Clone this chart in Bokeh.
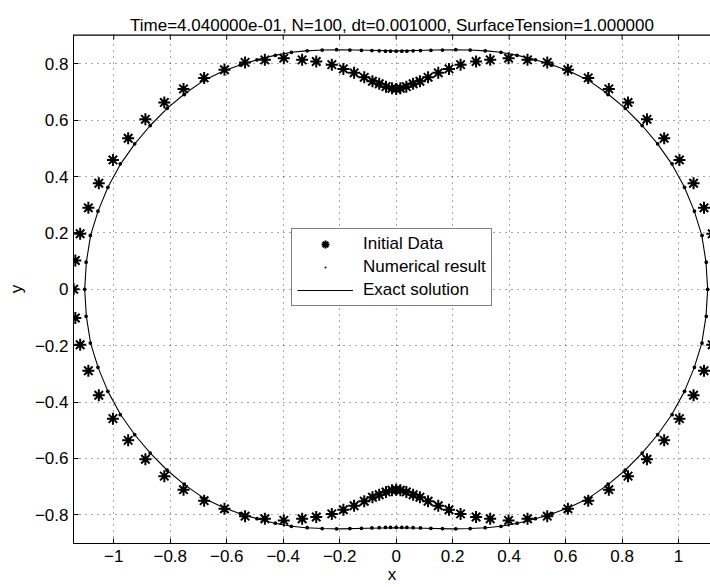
import math

from bokeh.plotting import figure
from bokeh.models import Range1d, FixedTicker, Legend, LegendItem, Span
from bokeh.embed import file_html
from bokeh.resources import INLINE

FONT = "Liberation Sans"

TITLE = "Time=4.040000e-01, N=100, dt=0.001000, SurfaceTension=1.000000"

x_ticks = [-1.0, -0.8, -0.6, -0.4, -0.2, 0.0, 0.2, 0.4, 0.6, 0.8, 1.0]
x_tick_labels = ["\u22121", "\u22120.8", "\u22120.6", "\u22120.4", "\u22120.2", "0",
                 "0.2", "0.4", "0.6", "0.8", "1"]
y_ticks = [-0.8, -0.6, -0.4, -0.2, 0.0, 0.2, 0.4, 0.6, 0.8]
y_tick_labels = ["\u22120.8", "\u22120.6", "\u22120.4", "\u22120.2", "0",
                 "0.2", "0.4", "0.6", "0.8"]

X_LIM = (-1.1426, 1.1130)
Y_LIM = (-0.902, 0.904)

# Initial interface (marker points), N = 100
star_x = [0.000, -0.015, -0.036, -0.060, -0.084, -0.113, -0.149, -0.187, -0.228, -0.283,
          -0.333, -0.398, -0.465, -0.535, -0.608, -0.680, -0.753, -0.821, -0.888, -0.949,
          -1.003, -1.053, -1.090, -1.119, -1.136, -1.142,
          -1.136, -1.119, -1.090, -1.053, -1.003, -0.949, -0.888, -0.821, -0.753, -0.680,
          -0.608, -0.535, -0.465, -0.398, -0.333, -0.283, -0.228, -0.187, -0.149, -0.113,
          -0.084, -0.060, -0.036, -0.015, 0.000,
          0.015, 0.036, 0.060, 0.084, 0.113, 0.149, 0.187, 0.228, 0.283, 0.333,
          0.398, 0.465, 0.535, 0.608, 0.680, 0.753, 0.821, 0.888, 0.949, 1.003,
          1.053, 1.090, 1.119, 1.136, 1.142,
          1.136, 1.119, 1.090, 1.053, 1.003, 0.949, 0.888, 0.821, 0.753, 0.680,
          0.608, 0.535, 0.465, 0.398, 0.333, 0.283, 0.228, 0.187, 0.149, 0.113,
          0.084, 0.060, 0.036, 0.015]
star_y = [0.711, 0.713, 0.719, 0.729, 0.738, 0.752, 0.768, 0.782, 0.797, 0.808,
          0.814, 0.820, 0.814, 0.805, 0.779, 0.750, 0.711, 0.663, 0.603, 0.536,
          0.459, 0.376, 0.289, 0.197, 0.102, 0.000,
          -0.102, -0.197, -0.289, -0.376, -0.459, -0.536, -0.603, -0.663, -0.711, -0.750,
          -0.779, -0.805, -0.814, -0.820, -0.814, -0.808, -0.797, -0.782, -0.768, -0.752,
          -0.738, -0.729, -0.719, -0.713, -0.711,
          -0.713, -0.719, -0.729, -0.738, -0.752, -0.768, -0.782, -0.797, -0.808, -0.814,
          -0.820, -0.814, -0.805, -0.779, -0.750, -0.711, -0.663, -0.603, -0.536, -0.459,
          -0.376, -0.289, -0.197, -0.102, 0.000,
          0.102, 0.197, 0.289, 0.376, 0.459, 0.536, 0.603, 0.663, 0.711, 0.750,
          0.779, 0.805, 0.814, 0.820, 0.814, 0.808, 0.797, 0.782, 0.768, 0.752,
          0.738, 0.729, 0.719, 0.713]

# Computed marker positions at t = 0.404
num_x = [0.000, -0.020, -0.038, -0.060, -0.086, -0.123, -0.164, -0.211, -0.262, -0.315,
         -0.371, -0.428, -0.493, -0.552, -0.608, -0.679, -0.750, -0.811, -0.871, -0.926,
         -0.977, -1.021, -1.056, -1.083, -1.098, -1.103,
         -1.098, -1.083, -1.056, -1.021, -0.977, -0.926, -0.871, -0.811, -0.750, -0.679,
         -0.608, -0.552, -0.493, -0.428, -0.371, -0.315, -0.262, -0.211, -0.164, -0.123,
         -0.086, -0.060, -0.038, -0.020, 0.000,
         0.020, 0.038, 0.060, 0.086, 0.123, 0.164, 0.211, 0.262, 0.315, 0.371,
         0.428, 0.493, 0.552, 0.608, 0.679, 0.750, 0.811, 0.871, 0.926, 0.977,
         1.021, 1.056, 1.083, 1.098, 1.103,
         1.098, 1.083, 1.056, 1.021, 0.977, 0.926, 0.871, 0.811, 0.750, 0.679,
         0.608, 0.552, 0.493, 0.428, 0.371, 0.315, 0.262, 0.211, 0.164, 0.123,
         0.086, 0.060, 0.038, 0.020]
num_y = [0.845, 0.845, 0.845, 0.846, 0.847, 0.848, 0.849, 0.850, 0.849, 0.846,
         0.841, 0.830, 0.814, 0.796, 0.776, 0.743, 0.691, 0.642, 0.581, 0.516,
         0.445, 0.362, 0.277, 0.191, 0.096, 0.000,
         -0.096, -0.191, -0.277, -0.362, -0.445, -0.516, -0.581, -0.642, -0.691, -0.743,
         -0.776, -0.796, -0.814, -0.830, -0.841, -0.846, -0.849, -0.850, -0.849, -0.848,
         -0.847, -0.846, -0.845, -0.845, -0.845,
         -0.845, -0.845, -0.846, -0.847, -0.848, -0.849, -0.850, -0.849, -0.846, -0.841,
         -0.830, -0.814, -0.796, -0.776, -0.743, -0.691, -0.642, -0.581, -0.516, -0.445,
         -0.362, -0.277, -0.191, -0.096, 0.000,
         0.096, 0.191, 0.277, 0.362, 0.445, 0.516, 0.581, 0.642, 0.691, 0.743,
         0.776, 0.796, 0.814, 0.830, 0.841, 0.846, 0.849, 0.850, 0.849, 0.848,
         0.847, 0.846, 0.845, 0.845]

# Exact interface at t = 0.404 (closed curve)
exact_x = [0.000, -0.100, -0.200, -0.260, -0.320, -0.370, -0.430, -0.490, -0.550, -0.610,
           -0.680, -0.750, -0.810, -0.870, -0.925, -0.975, -1.020, -1.055, -1.082, -1.097,
           -1.103,
           -1.097, -1.082, -1.055, -1.020, -0.975, -0.925, -0.870, -0.810, -0.750, -0.680,
           -0.610, -0.550, -0.490, -0.430, -0.370, -0.320, -0.260, -0.200, -0.100, 0.000,
           0.100, 0.200, 0.260, 0.320, 0.370, 0.430, 0.490, 0.550, 0.610, 0.680,
           0.750, 0.810, 0.870, 0.925, 0.975, 1.020, 1.055, 1.082, 1.097, 1.103,
           1.097, 1.082, 1.055, 1.020, 0.975, 0.925, 0.870, 0.810, 0.750, 0.680,
           0.610, 0.550, 0.490, 0.430, 0.370, 0.320, 0.260, 0.200, 0.100, 0.000]
exact_y = [0.846, 0.848, 0.850, 0.849, 0.846, 0.841, 0.830, 0.815, 0.797, 0.775,
           0.742, 0.693, 0.643, 0.582, 0.517, 0.446, 0.364, 0.279, 0.192, 0.097,
           0.000,
           -0.097, -0.192, -0.279, -0.364, -0.446, -0.517, -0.582, -0.643, -0.693, -0.742,
           -0.775, -0.797, -0.815, -0.830, -0.841, -0.846, -0.849, -0.850, -0.848, -0.846,
           -0.848, -0.850, -0.849, -0.846, -0.841, -0.830, -0.815, -0.797, -0.775, -0.742,
           -0.693, -0.643, -0.582, -0.517, -0.446, -0.364, -0.279, -0.192, -0.097, 0.000,
           0.097, 0.192, 0.279, 0.364, 0.446, 0.517, 0.582, 0.643, 0.693, 0.742,
           0.775, 0.797, 0.815, 0.830, 0.841, 0.846, 0.849, 0.850, 0.848, 0.846]

p = figure(width=710, height=587,
           x_range=Range1d(*X_LIM), y_range=Range1d(*Y_LIM),
           output_backend="svg", toolbar_location=None, title=TITLE,
           min_border_left=73, min_border_right=0, min_border_top=34, min_border_bottom=44)
p.outline_line_color = None
p.background_fill_color = "white"
p.border_fill_color = "white"

p.title.align = "center"
p.title.text_font = FONT
p.title.text_font_size = "17px"
p.title.text_font_style = "normal"
p.title.text_color = "black"
p.title.standoff = 0
p.title.padding = (0, 0, 10, 0)


def style_axis(ax, ticks, labels):
    ax.ticker = FixedTicker(ticks=ticks)
    ax.major_label_overrides = {t: s for t, s in zip(ticks, labels)}
    ax.major_label_text_font = FONT
    ax.major_label_text_font_size = "17px"
    ax.major_label_text_color = "black"
    ax.axis_line_color = "black"
    ax.axis_line_width = 1
    ax.major_tick_line_color = "black"
    ax.major_tick_in = 5
    ax.major_tick_out = 0
    ax.minor_tick_in = 0
    ax.minor_tick_out = 0
    ax.axis_label_text_font = FONT
    ax.axis_label_text_font_size = "17px"
    ax.axis_label_text_font_style = "normal"
    ax.axis_label_text_color = "black"


xa = p.xaxis[0]
ya = p.yaxis[0]
style_axis(xa, x_ticks, x_tick_labels)
style_axis(ya, y_ticks, y_tick_labels)
xa.axis_label = "x"
ya.axis_label = "y"
xa.major_label_standoff = 6
xa.axis_label_standoff = 0
ya.major_label_standoff = 5
ya.axis_label_standoff = 6

# Top edge of the box, with inward tick marks at the x ticks
p.add_layout(Span(location=Y_LIM[1], dimension="width", line_color="black", line_width=2.5))
p.scatter(x_ticks, [Y_LIM[1]] * len(x_ticks), marker="dash", angle=math.pi / 2, size=10,
          line_color="black", line_width=1)

for g in (p.xgrid[0], p.ygrid[0]):
    g.grid_line_color = "black"
    g.grid_line_dash = "1 5"
    g.grid_line_alpha = 0.7
    g.grid_line_width = 1

exact_r = p.line(exact_x, exact_y, line_color="black", line_width=1.1)
num_r = p.scatter(num_x, num_y, marker="dot", size=15, color="black", line_width=1)
star_r = p.scatter(star_x, star_y, marker="asterisk", size=12,
                   line_color="black", line_width=2)

legend = Legend(items=[LegendItem(label="Initial Data", renderers=[star_r]),
                       LegendItem(label="Numerical result", renderers=[num_r]),
                       LegendItem(label="Exact solution", renderers=[exact_r])],
                location=(218, 237), orientation="vertical")
legend.border_line_color = "black"
legend.border_line_width = 1
legend.background_fill_color = "white"
legend.background_fill_alpha = 1.0
legend.label_text_font = FONT
legend.label_text_font_size = "17px"
legend.label_text_color = "black"
legend.padding = 5
legend.margin = 0
legend.spacing = 3
legend.glyph_width = 56
legend.glyph_height = 20
legend.label_height = 20
legend.label_standoff = 10
p.add_layout(legend)

open("out.html", "w").write(file_html(p, INLINE))
